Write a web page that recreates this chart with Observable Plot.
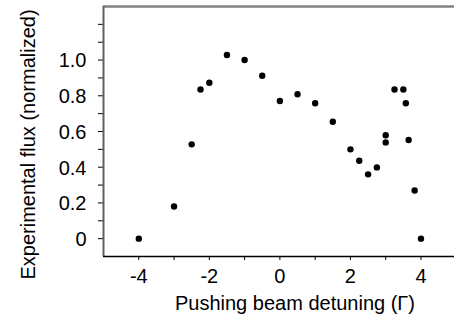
<!DOCTYPE html>
<html>
<head>
<meta charset="utf-8">
<script src="https://cdn.jsdelivr.net/npm/d3@7"></script>
<script src="https://cdn.jsdelivr.net/npm/@observablehq/plot@0.6"></script>
<style>
  html, body { margin: 0; padding: 0; background: #fff; }
  #chart svg { display: block; }
</style>
</head>
<body>
<div id="chart"></div>
<script>
const detuning = [-4, -3, -2.5, -2.25, -2, -1.5, -1, -0.5, 0, 0.5, 1, 1.5, 2, 2.25, 2.5, 2.75, 3, 3, 3.25, 3.5, 3.57, 3.65, 3.82, 4];
const flux = [0, 0.18, 0.528, 0.835, 0.873, 1.028, 1.0, 0.912, 0.771, 0.809, 0.758, 0.655, 0.5, 0.436, 0.36, 0.399, 0.579, 0.539, 0.835, 0.835, 0.758, 0.552, 0.27, 0];

const xLabelTicks = [-4, -2, 0, 2, 4];
const xLabels = ["-4", "-2", "0", "2", "4"];
const xMinorTicks = [-3, -1, 1, 3];
const yLabelTicks = [0, 0.2, 0.4, 0.6, 0.8, 1.0];
const yLabels = ["0", "0.2", "0.4", "0.6", "0.8", "1.0"];
const yMinorTicks = [0.1, 0.3, 0.5, 0.7, 0.9, 1.1, 1.2];

const xTitle = "Pushing beam detuning (\u0393)";
const yTitle = "Experimental flux (normalized)";

const data = detuning.map((d, i) => ({x: d, y: flux[i]}));

const font = "'Liberation Sans', Arial, sans-serif";

const chart = Plot.plot({
  width: 454,
  height: 320,
  marginLeft: 103,
  marginRight: 0,
  marginTop: 6,
  marginBottom: 64,
  style: {fontFamily: font, fontSize: "20px", color: "#000", background: "#fff"},
  x: {domain: [-5, 4.95]},
  y: {domain: [-0.1, 1.3]},
  marks: [
    Plot.axisX(xLabelTicks.concat(xMinorTicks), {tickSize: 4, tickFormat: () => "", label: null, stroke: "#000"}),
    Plot.axisY(yLabelTicks.concat(yMinorTicks), {tickSize: 5, tickFormat: () => "", label: null, stroke: "#000"}),
    Plot.text(xLabelTicks, {x: d => d, frameAnchor: "bottom", textAnchor: "middle", lineAnchor: "middle", dy: 20, text: (d, i) => xLabels[i], fontSize: 20, fill: "#000"}),
    Plot.text(yLabelTicks, {y: d => d, frameAnchor: "left", textAnchor: "end", lineAnchor: "middle", dx: -17, dy: 1, text: (d, i) => yLabels[i], fontSize: 20, fill: "#000"}),
    Plot.ruleY([1.3], {stroke: "#808080", strokeWidth: 2.5}),
    Plot.ruleX([-5], {stroke: "#606060", strokeWidth: 2}),
    Plot.ruleY([-0.1], {stroke: "#000", strokeWidth: 1.5}),
    Plot.text([xTitle], {frameAnchor: "bottom", textAnchor: "middle", lineAnchor: "middle", dy: 47, dx: 16, fontSize: 20, fill: "#000"}),
    Plot.text([yTitle], {frameAnchor: "left", textAnchor: "middle", lineAnchor: "middle", rotate: -90, dx: -75, dy: 13, fontSize: 20, fill: "#000"}),
    Plot.dot(data, {x: "x", y: "y", r: 3.2, fill: "#000", stroke: null})
  ]
});
document.getElementById("chart").appendChild(chart);
</script>
</body>
</html>
